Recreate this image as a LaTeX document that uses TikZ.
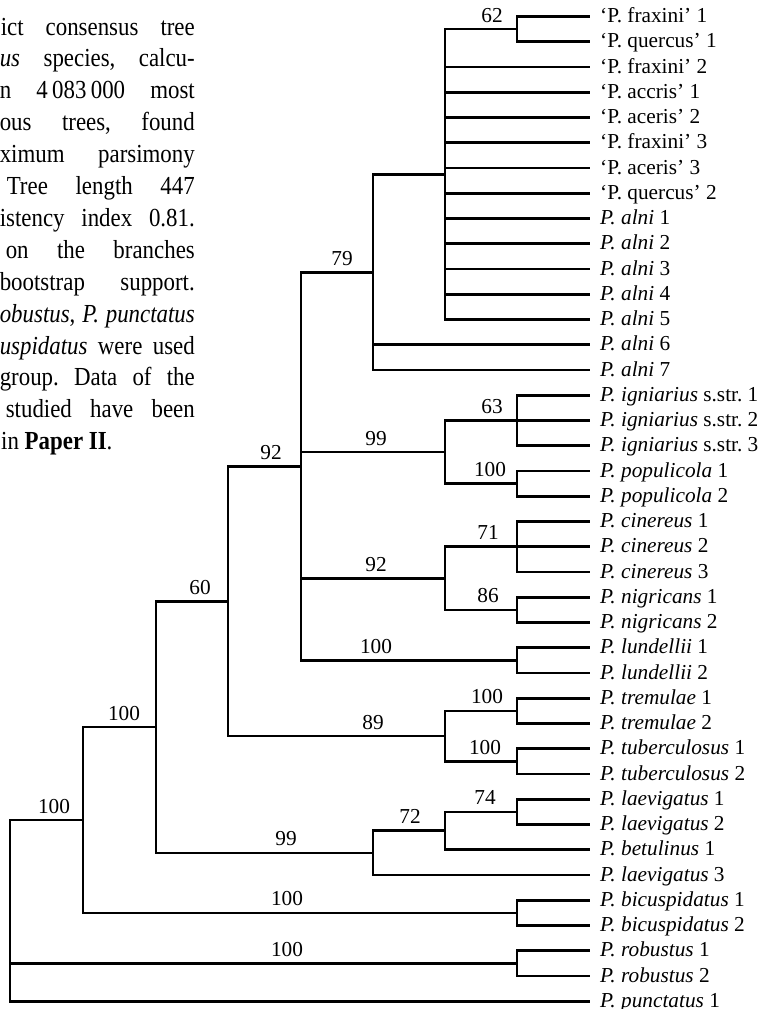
\documentclass[tikz,border=0pt]{standalone}
\usepackage{fontspec}
\setmainfont{Liberation Serif}
\newfontfamily\capfont[FakeStretch=0.88]{Liberation Serif}
\frenchspacing
\begin{document}
\begin{tikzpicture}[x=1pt, y=-1pt,
      branch/.style={line width=2.7pt, line join=miter},
      leaf/.style={anchor=base west, inner sep=0pt, font=\fontsize{21.3}{25}\selectfont},
      boot/.style={anchor=base, inner sep=0pt, font=\fontsize{21.3}{25}\selectfont},
      capline/.style={anchor=base east, inner sep=0pt, font=\capfont\fontsize{26}{32}\selectfont}
    ]
    \useasboundingbox (0,0) rectangle (769,1009);

    % Caption, cut at the left edge
    \foreach \k/\s/\txt in {1/1/{ict consensus tree}, 2/0/{\textit{us} species, calcu-},
        3/0/{n 4\,083\,000 most}, 4/0/{ous trees, found}, 5/0/{ximum parsimony},
        6/7/{Tree length 447}, 7/0/{istency index 0.81.}, 8/6/{on the branches},
        9/0/{bootstrap support.}, 10/0/{\textit{obustus}, \textit{P. punctatus}},
        11/0/{\textit{uspidatus} were used}, 12/0/{group. Data of the},
        13/6/{studied have been}} {
      \pgfmathsetmacro\capw{195-\s}
      \node[capline] (cap\k) at (195, {35 + 31.9*(\k-1)}) {\makebox[\capw pt][s]{\txt}};
    }
    \node[capline, anchor=base west] (cap14) at (1, {35 + 31.9*13}) {in \textbf{Paper II}.};

    % Leaves
    \foreach \i/\txt in {1/{`P. fraxini' 1}, 2/{`P. quercus' 1}, 3/{`P. fraxini' 2},
        4/{`P. accris' 1}, 5/{`P. aceris' 2}, 6/{`P. fraxini' 3}, 7/{`P. aceris' 3},
        8/{`P. quercus' 2}, 9/{\textit{P. alni} 1}, 10/{\textit{P. alni} 2},
        11/{\textit{P. alni} 3}, 12/{\textit{P. alni} 4}, 13/{\textit{P. alni} 5},
        14/{\textit{P. alni} 6}, 15/{\textit{P. alni} 7},
        16/{\textit{P. igniarius} s.str. 1}, 17/{\textit{P. igniarius} s.str. 2},
        18/{\textit{P. igniarius} s.str. 3}, 19/{\textit{P. populicola} 1},
        20/{\textit{P. populicola} 2}, 21/{\textit{P. cinereus} 1},
        22/{\textit{P. cinereus} 2}, 23/{\textit{P. cinereus} 3},
        24/{\textit{P. nigricans} 1}, 25/{\textit{P. nigricans} 2},
        26/{\textit{P. lundellii} 1}, 27/{\textit{P. lundellii} 2},
        28/{\textit{P. tremulae} 1}, 29/{\textit{P. tremulae} 2},
        30/{\textit{P. tuberculosus} 1}, 31/{\textit{P. tuberculosus} 2},
        32/{\textit{P. laevigatus} 1}, 33/{\textit{P. laevigatus} 2},
        34/{\textit{P. betulinus} 1}, 35/{\textit{P. laevigatus} 3},
        36/{\textit{P. bicuspidatus} 1}, 37/{\textit{P. bicuspidatus} 2},
        38/{\textit{P. robustus} 1}, 39/{\textit{P. robustus} 2},
        40/{\textit{P. punctatus} 1}} {
      \coordinate (L\i) at (590, {16.5 + 25.25*(\i-1)});
      \node[leaf] (T\i) at (600, {22.5 + 25.25*(\i-1)}) {\txt};
    }

    % Inner nodes
    \coordinate (n62) at (517, 29.1);
    \coordinate (npoly) at (445, 174.3);
    \coordinate (nalni) at (373, 272.2);
    \coordinate (n63) at (517, 420.5);
    \coordinate (npop) at (517, 483.6);
    \coordinate (nign) at (445, 452.1);
    \coordinate (ncin) at (517, 546.75);
    \coordinate (nnig) at (517, 609.9);
    \coordinate (ncn) at (445, 578.3);
    \coordinate (nlun) at (517, 660.4);
    \coordinate (nin) at (301, 466.3);
    \coordinate (ntre) at (517, 710.9);
    \coordinate (ntub) at (517, 761.4);
    \coordinate (ntt) at (445, 736.1);
    \coordinate (nmid) at (228, 601.2);
    \coordinate (nlae) at (517, 811.9);
    \coordinate (nbet) at (445, 830.8);
    \coordinate (nlv) at (373, 852.9);
    \coordinate (nup) at (156, 727.05);
    \coordinate (nbic) at (517, 912.9);
    \coordinate (ningrp) at (83, 820);
    \coordinate (nrob) at (517, 963.4);
    \coordinate (root) at (10, 910.6);

    % Branches
    \foreach \i in {3,...,13} {
      \draw[branch] (npoly) |- (L\i);
    }
    \foreach \pn/\cn in {n62/L1, n62/L2, npoly/n62, nalni/npoly, nalni/L14, nalni/L15,
        n63/L16, n63/L17, n63/L18, npop/L19, npop/L20, nign/n63, nign/npop,
        ncin/L21, ncin/L22, ncin/L23, nnig/L24, nnig/L25, ncn/ncin, ncn/nnig,
        nlun/L26, nlun/L27, nin/nalni, nin/nign, nin/ncn, nin/nlun,
        ntre/L28, ntre/L29, ntub/L30, ntub/L31, ntt/ntre, ntt/ntub,
        nmid/nin, nmid/ntt, nlae/L32, nlae/L33, nbet/nlae, nbet/L34,
        nlv/nbet, nlv/L35, nup/nmid, nup/nlv, nbic/L36, nbic/L37,
        ningrp/nup, ningrp/nbic, nrob/L38, nrob/L39,
        root/ningrp, root/nrob, root/L40} {
      \draw[branch] (\pn) |- (\cn);
    }

    % Bootstrap values
    \foreach \x/\y/\v/\nm in {492/22.1/62/b62, 342/265.2/79/b79, 271/459.3/92/b92,
        376/445.1/99/b99, 492/413.5/63/b63, 490/476.6/100/bpop, 376/571.3/92/bcn,
        488/539.75/71/b71, 488/602.9/86/b86, 376/653.4/100/blun, 200/594.2/60/b60,
        373/729.1/89/b89, 487/703.9/100/btre, 485/754.4/100/btub, 485/804.9/74/b74,
        410/823.8/72/b72, 286/845.9/99/blv, 124/720/100/bup, 287/905.9/100/bbic,
        54/813/100/bingrp, 287/956.4/100/brob} {
      \node[boot] (\nm) at (\x, \y) {\v};
    }

\end{tikzpicture}
\end{document}
